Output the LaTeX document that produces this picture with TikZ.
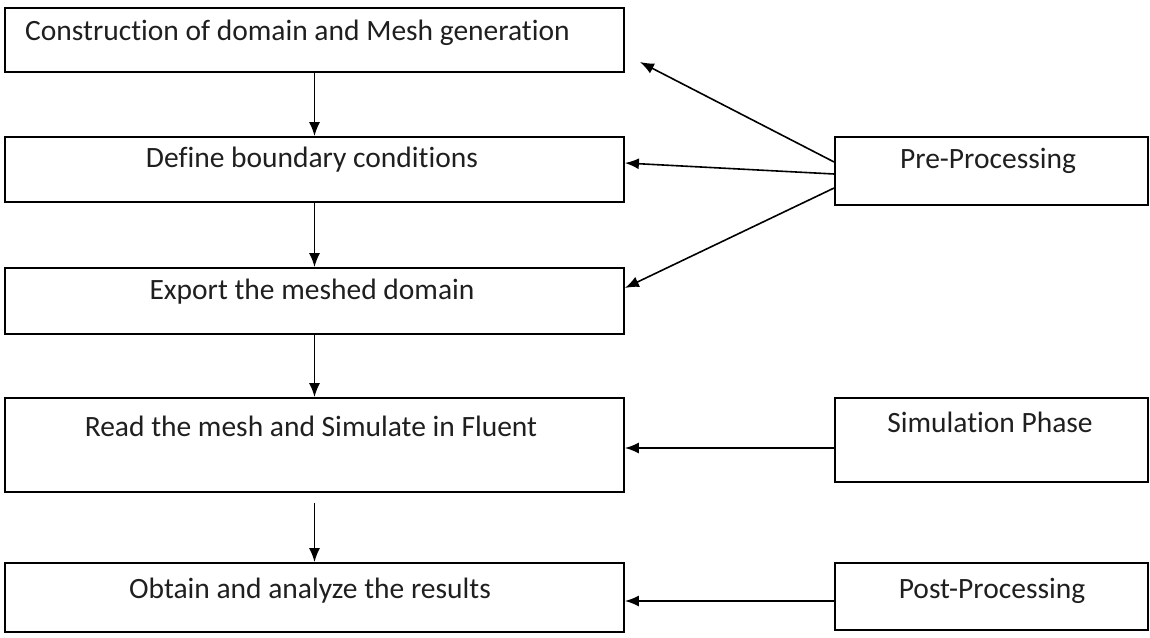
\documentclass[tikz,border=0pt]{standalone}
\usepackage{fontspec}
\setmainfont{Carlito}[Ligatures=CommonOff]
\usetikzlibrary{arrows.meta}
\begin{document}
\begin{tikzpicture}[x=1pt,y=-1pt,
  box/.style={draw, line width=1.8pt, rectangle, inner sep=0pt},
  txt/.style={font=\fontsize{29.5}{34}\selectfont, inner sep=0pt, text=black!88, anchor=base},
  arr/.style={-{Latex[length=14pt,width=11pt]}, line width=1.6pt}]
\useasboundingbox (0,0) rectangle (1150,637);
% left column boxes
\node[box, minimum width=619pt, minimum height=64pt] (b1) at (314.5,40) {};
\node[box, minimum width=619pt, minimum height=65pt] (b2) at (314.5,169.5) {};
\node[box, minimum width=619pt, minimum height=66pt] (b3) at (314.5,301) {};
\node[box, minimum width=619pt, minimum height=94pt] (b4) at (314.5,445) {};
\node[box, minimum width=619pt, minimum height=69pt] (b5) at (314.5,597.5) {};
% right column boxes
\node[box, minimum width=313pt, minimum height=68pt] (pre) at (991.5,171) {};
\node[box, minimum width=313pt, minimum height=84pt] (sim) at (991.5,440) {};
\node[box, minimum width=313pt, minimum height=67pt] (post) at (991.5,596.5) {};
% texts
\node[txt, anchor=base west] (t1) at (25,40) {Construction of domain and Mesh generation};
\node[txt] (t2) at (312,167) {Define boundary conditions};
\node[txt] (t3) at (312,299) {Export the meshed domain};
\node[txt] (t4) at (311,436) {Read the mesh and Simulate in Fluent};
\node[txt] (t5) at (310,598) {Obtain and analyze the results};
\node[txt] (tp) at (988,168) {Pre-Processing};
\node[txt] (ts) at (990,432) {Simulation Phase};
\node[txt] (tq) at (992,598) {Post-Processing};
% vertical flow arrows
\draw[arr] (b1.south) -- (b2.north);
\draw[arr] (b2.south) -- (b3.north);
\draw[arr] (b3.south) -- (b4.north);
\coordinate (c4) at (314.5,503);
\draw[arr] (c4) -- (b5.north);
% pre-processing arrows
\coordinate (p1) at ([yshift=9pt]pre.west);
\coordinate (p2) at ([yshift=-3pt]pre.west);
\coordinate (p3) at ([yshift=-17pt]pre.west);
\coordinate (e1) at (640,62);
\coordinate (e2) at ([yshift=6.5pt]b2.east);
\coordinate (e3) at ([yshift=13pt]b3.east);
\draw[arr] (p1) -- (e1);
\draw[arr] (p2) -- (e2);
\draw[arr] (p3) -- (e3);
% simulation and post arrows
\coordinate (s1) at ([yshift=-8pt]sim.west);
\draw[arr] (s1) -- (s1 -| b4.east);
\coordinate (q1) at ([yshift=-4.5pt]post.west);
\draw[arr] (q1) -- (q1 -| b5.east);
\end{tikzpicture}
\end{document}
